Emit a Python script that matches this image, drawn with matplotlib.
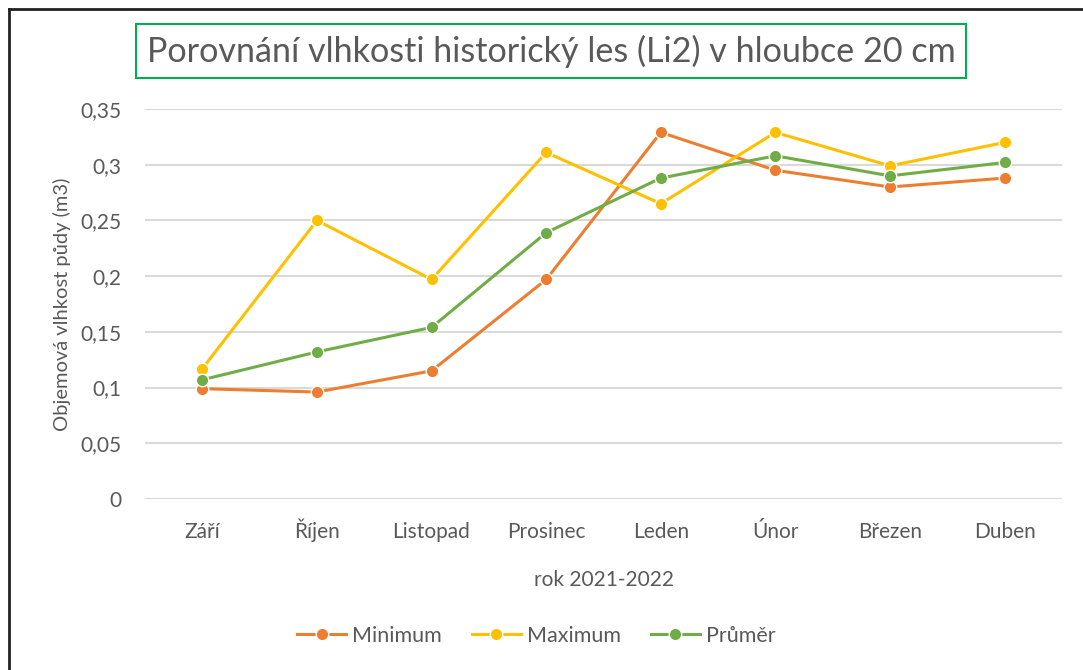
import numpy as np
import matplotlib.pyplot as plt
from matplotlib.ticker import FuncFormatter

plt.rcParams['font.family'] = ['Lato', 'DejaVu Sans']

months = ['Září', 'Říjen', 'Listopad', 'Prosinec', 'Leden', 'Únor', 'Březen', 'Duben']
minimum = [0.099, 0.096, 0.115, 0.197, 0.329, 0.295, 0.280, 0.288]
maximum = [0.117, 0.250, 0.197, 0.311, 0.265, 0.329, 0.299, 0.320]
prumer = [0.107, 0.132, 0.154, 0.239, 0.288, 0.308, 0.290, 0.302]

txt = '#595959'
fig = plt.figure(figsize=(10.83, 6.7), dpi=100)
ax = fig.add_axes([145 / 1083, 1 - 499 / 670, 917 / 1083, 390 / 670])

x = np.arange(len(months))
for vals, col, lab in [(minimum, '#ed7d31', 'Minimum'),
                       (maximum, '#ffc000', 'Maximum'),
                       (prumer, '#70ad47', 'Průměr')]:
    ax.plot(x, vals, color=col, lw=2.2, marker='o', markersize=9,
            markeredgecolor='white', markeredgewidth=1, label=lab, zorder=3)

ax.set_xlim(-0.5, len(months) - 0.5)
ax.set_ylim(0, 0.35)
ax.set_yticks(np.arange(0, 0.351, 0.05))
ax.yaxis.set_major_formatter(FuncFormatter(lambda v, p: ('%g' % round(v, 2)).replace('.', ',')))
ax.set_xticks(x)
ax.set_xticklabels(months)
ax.grid(axis='y', color='#d9d9d9', lw=1.5)
ax.set_axisbelow(True)
for s in ax.spines.values():
    s.set_visible(False)
ax.tick_params(length=0, labelsize=15, colors=txt)
ax.tick_params(axis='y', pad=17)
ax.tick_params(axis='x', pad=28)
for lbl in ax.get_xticklabels():
    lbl.set_va('baseline')

ax.set_ylabel('Objemová vlhkost půdy (m3)', fontsize=14.5, color=txt, labelpad=7)
ax.set_xlabel('rok 2021-2022', fontsize=15, color=txt, labelpad=20)

fig.text(551 / 1083, 1 - 51 / 670, 'Porovnání vlhkosti historický les (Li2) v hloubce 20 cm',
         ha='center', va='center', fontsize=24.6, color=txt,
         bbox=dict(boxstyle='square,pad=0.32', fc='white', ec='#00b050', lw=1.5))

fig.legend(loc='center', bbox_to_anchor=(536 / 1083, 1 - 636 / 670), ncol=3,
           frameon=False, fontsize=15.5, labelcolor=txt, handlelength=2.3,
           columnspacing=1.4, handletextpad=0.25)

# outer frame (only top and left edges visible)
fig.add_artist(plt.Line2D([9 / 1083, 1], [1 - 9 / 670, 1 - 9 / 670], color='#222222', lw=2))
fig.add_artist(plt.Line2D([9 / 1083, 9 / 1083], [0, 1 - 9 / 670], color='#222222', lw=2))

fig.savefig('out.png', dpi=100)
